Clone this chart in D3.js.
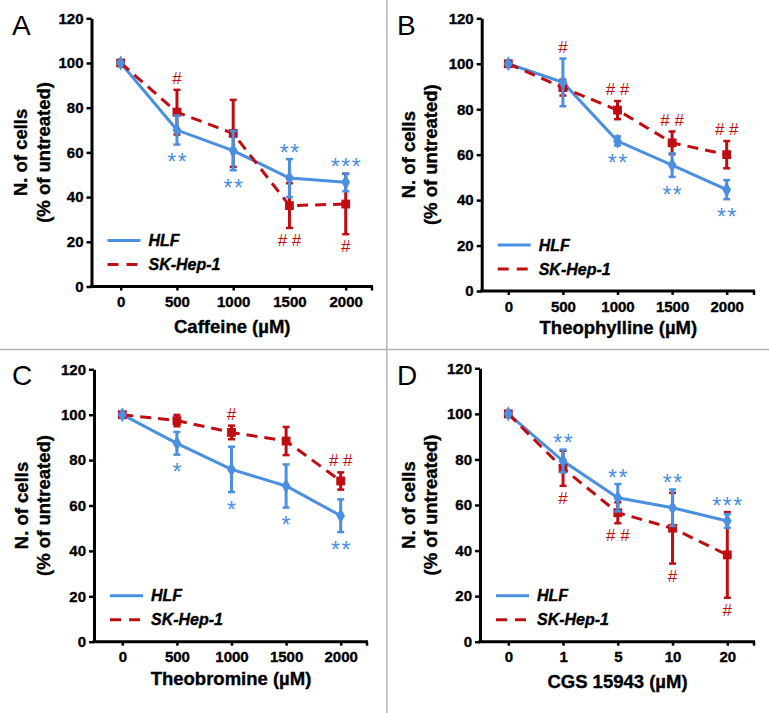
<!DOCTYPE html>
<html>
<head>
<meta charset="utf-8">
<script src="https://cdn.jsdelivr.net/npm/d3@7/dist/d3.min.js"></script>
<style>
  html, body { margin: 0; padding: 0; background: #fff; }
  svg { display: block; font-family: "Liberation Sans", Arial, sans-serif; }
</style>
</head>
<body>
<svg id="chart" width="769" height="713"></svg>
<script>
// ---------------- DATA ----------------
const yTicks = [0, 20, 40, 60, 80, 100, 120];
const seriesNames = ["HLF", "SK-Hep-1"];

// Panel A: Caffeine
const caffeineDoses = ["0", "500", "1000", "1500", "2000"];
const caffeineHLF = [100, 70, 60.8, 48.5, 46.6];
const caffeineHLFErr = [0, 6.5, 8.8, 8.5, 4];
const caffeineSK = [100, 78, 68.5, 36.2, 36.9];
const caffeineSKErr = [0, 10, 15, 10, 13.5];
const caffeineHLFMarks = ["", "**", "**", "**", "***"];
const caffeineHLFSide = ["", "below", "below", "above", "above"];
const caffeineSKMarks = ["", "#", "", "# #", "#"];
const caffeineSKSide = ["", "above", "", "below", "below"];

// Panel B: Theophylline
const theophyllineDoses = ["0", "500", "1000", "1500", "2000"];
const theophyllineHLF = [100, 91.8, 66, 55.4, 44.6];
const theophyllineHLFErr = [0, 10.5, 2, 5.2, 4.2];
const theophyllineSK = [100, 89.5, 79.6, 65.2, 60];
const theophyllineSKErr = [0, 3.5, 4, 5, 6];
const theophyllineHLFMarks = ["", "", "**", "**", "**"];
const theophyllineHLFSide = ["", "", "below", "below", "below"];
const theophyllineSKMarks = ["", "#", "# #", "# #", "# #"];
const theophyllineSKSide = ["", "above", "above", "above", "above"];

// Panel C: Theobromine
const theobromineDoses = ["0", "500", "1000", "1500", "2000"];
const theobromineHLF = [100, 87.4, 75.9, 68.6, 55.5];
const theobromineHLFErr = [0, 5, 10, 9.5, 7.2];
const theobromineSK = [100, 97.4, 92.2, 88.4, 70.8];
const theobromineSKErr = [0, 2.5, 3, 6.2, 3.8];
const theobromineHLFMarks = ["", "*", "*", "*", "**"];
const theobromineHLFSide = ["", "below", "below", "below", "below"];
const theobromineSKMarks = ["", "", "#", "", "# #"];
const theobromineSKSide = ["", "", "above", "", "above"];

// Panel D: CGS 15943
const cgsDoses = ["0", "1", "5", "10", "20"];
const cgsHLF = [100, 79.3, 63.2, 58.8, 53];
const cgsHLFErr = [0, 5, 6, 8, 3];
const cgsSK = [100, 76.1, 56.6, 49.8, 38.1];
const cgsSKErr = [0, 7.7, 4.6, 15.5, 18.8];
const cgsHLFMarks = ["", "**", "**", "**", "***"];
const cgsHLFSide = ["", "above", "above", "above", "above"];
const cgsSKMarks = ["", "#", "# #", "#", "#"];
const cgsSKSide = ["", "below", "below", "below", "below"];

// ---------------- LAYOUT / STYLE ----------------
const BLUE = "#4a8fe0";
const RED = "#bf0d12";

const panels = [
  { letter: "A", title: "Caffeine (\u00b5M)", doses: caffeineDoses,
    hlf: caffeineHLF, hlfErr: caffeineHLFErr, sk: caffeineSK, skErr: caffeineSKErr,
    hlfMarks: caffeineHLFMarks, hlfSide: caffeineHLFSide, skMarks: caffeineSKMarks, skSide: caffeineSKSide,
    axisX: 91.5, yTop: 18.3, yBot: 286.5, xFirst: 120.7, xLast: 345.7, xEnd: 373,
    letterX: 12, letterY: 35, yt1: 20.7, yt2: 43.3, xtY: 333 },
  { letter: "B", title: "Theophylline (\u00b5M)", doses: theophyllineDoses,
    hlf: theophyllineHLF, hlfErr: theophyllineHLFErr, sk: theophyllineSK, skErr: theophyllineSKErr,
    hlfMarks: theophyllineHLFMarks, hlfSide: theophyllineHLFSide, skMarks: theophyllineSKMarks, skSide: theophyllineSKSide,
    axisX: 481.7, yTop: 18.3, yBot: 291, xFirst: 508.3, xLast: 726.7, xEnd: 755,
    letterX: 397, letterY: 35, yt1: 408, yt2: 430.5, xtY: 334 },
  { letter: "C", title: "Theobromine (\u00b5M)", doses: theobromineDoses,
    hlf: theobromineHLF, hlfErr: theobromineHLFErr, sk: theobromineSK, skErr: theobromineSKErr,
    hlfMarks: theobromineHLFMarks, hlfSide: theobromineHLFSide, skMarks: theobromineSKMarks, skSide: theobromineSKSide,
    axisX: 94, yTop: 369.3, yBot: 641.7, xFirst: 122.3, xLast: 340.7, xEnd: 368,
    letterX: 12, letterY: 385, yt1: 21.7, yt2: 43.8, xtY: 685 },
  { letter: "D", title: "CGS 15943 (\u00b5M)", doses: cgsDoses,
    hlf: cgsHLF, hlfErr: cgsHLFErr, sk: cgsSK, skErr: cgsSKErr,
    hlfMarks: cgsHLFMarks, hlfSide: cgsHLFSide, skMarks: cgsSKMarks, skSide: cgsSKSide,
    axisX: 480, yTop: 368.3, yBot: 641.7, xFirst: 508.3, xLast: 727.3, xEnd: 755,
    letterX: 397, letterY: 385, yt1: 408.3, yt2: 430.5, xtY: 688 }
];

const svg = d3.select("#chart");

// dividers
svg.append("line").attr("x1", 0).attr("x2", 769).attr("y1", 349.5).attr("y2", 349.5)
  .attr("stroke", "#b4b4b4").attr("stroke-width", 1.5);
svg.append("line").attr("x1", 386.8).attr("x2", 386.8).attr("y1", 0).attr("y2", 713)
  .attr("stroke", "#b4b4b4").attr("stroke-width", 1.5);

function heavy(sel, color) {
  sel.attr("stroke", color || "#000").attr("stroke-width", 0.35).attr("paint-order", "stroke");
}

panels.forEach(p => {
  const g = svg.append("g");
  const x = d3.scalePoint().domain(p.doses).range([p.xFirst, p.xLast]);
  const y = d3.scaleLinear().domain([0, 120]).range([p.yBot, p.yTop]);

  // Y axis
  const ya = g.append("g").attr("transform", `translate(${p.axisX},0)`)
    .call(d3.axisLeft(y).tickValues(yTicks).tickSize(5).tickSizeOuter(0).tickPadding(3));
  ya.select(".domain").attr("stroke", "#000").attr("stroke-width", 3);
  ya.selectAll(".tick line").attr("stroke", "#000").attr("stroke-width", 2.5);
  ya.selectAll(".tick text").attr("font-size", 15).attr("font-weight", "bold")
    .attr("fill", "#000").attr("font-family", "Liberation Sans, Arial, sans-serif").call(heavy);

  // X axis
  const xa = g.append("g").attr("transform", `translate(0,${p.yBot})`)
    .call(d3.axisBottom(x).tickSize(4).tickSizeOuter(0).tickPadding(6));
  xa.select(".domain").attr("d", `M${p.axisX - 1.5},0H${p.xEnd}`)
    .attr("stroke", "#000").attr("stroke-width", 3);
  xa.selectAll(".tick line").attr("stroke", "#000").attr("stroke-width", 2.5);
  xa.selectAll(".tick text").attr("font-size", 15).attr("font-weight", "bold")
    .attr("fill", "#000").attr("font-family", "Liberation Sans, Arial, sans-serif").call(heavy);
  xa.append("line").attr("x1", p.xEnd - 1).attr("x2", p.xEnd - 1).attr("y1", 0).attr("y2", 4)
    .attr("stroke", "#000").attr("stroke-width", 2.5);

  // panel letter
  g.append("text").attr("x", p.letterX).attr("y", p.letterY)
    .attr("font-size", 28).attr("fill", "#000").text(p.letter);

  // axis titles
  const yMid = (p.yTop + p.yBot) / 2;
  g.append("text").attr("transform", `translate(${p.yt1},${yMid}) rotate(-90)`)
    .attr("text-anchor", "middle").attr("dominant-baseline", "central")
    .attr("font-size", 18.5).attr("font-weight", "bold").text("N. of cells").call(heavy);
  g.append("text").attr("transform", `translate(${p.yt2},${yMid}) rotate(-90)`)
    .attr("text-anchor", "middle").attr("dominant-baseline", "central")
    .attr("font-size", 18.5).attr("font-weight", "bold").text("(% of untreated)").call(heavy);
  g.append("text").attr("x", (p.axisX + p.xEnd) / 2).attr("y", p.xtY)
    .attr("text-anchor", "middle").attr("font-size", 18.5).attr("font-weight", "bold")
    .text(p.title).call(heavy);

  const series = [
    { name: seriesNames[0], vals: p.hlf, errs: p.hlfErr, color: BLUE, dash: null, shape: d3.symbolDiamond, size: 66, marks: p.hlfMarks, side: p.hlfSide },
    { name: seriesNames[1], vals: p.sk, errs: p.skErr, color: RED, dash: "11,7", shape: d3.symbolSquare, size: 78, marks: p.skMarks, side: p.skSide }
  ];

  const line = d3.line().x((d, i) => x(p.doses[i])).y(d => y(d));

  series.forEach(s => {
    g.append("path").datum(s.vals).attr("d", line)
      .attr("fill", "none").attr("stroke", s.color).attr("stroke-width", 3)
      .attr("stroke-dasharray", s.dash);
  });

  [series[1], series[0]].forEach(s => {
    s.vals.forEach((v, i) => {
      const e = s.errs[i];
      const cx = x(p.doses[i]);
      if (e > 0) {
        g.append("line").attr("x1", cx).attr("x2", cx).attr("y1", y(v - e)).attr("y2", y(v + e))
          .attr("stroke", s.color).attr("stroke-width", 3);
        [v - e, v + e].forEach(t => {
          g.append("line").attr("x1", cx - 3.5).attr("x2", cx + 3.5).attr("y1", y(t)).attr("y2", y(t))
            .attr("stroke", s.color).attr("stroke-width", 2.5);
        });
      }
      g.append("path").attr("d", d3.symbol().type(s.shape).size(s.size)())
        .attr("transform", `translate(${cx},${y(v)})`).attr("fill", s.color);
    });
  });

  // significance marks
  series.forEach(s => {
    s.marks.forEach((m, i) => {
      if (!m) return;
      const cx = x(p.doses[i]);
      let target;
      if (s.side[i] === "above") {
        const top = d3.max(series, ss => ss.vals[i] + ss.errs[i]);
        target = y(top) - 12;
      } else {
        const bot = d3.min(series, ss => ss.vals[i] - ss.errs[i]);
        target = y(bot) + 12;
      }
      const isStar = m.indexOf("*") >= 0;
      const fs = isStar ? 23 : 17;
      const base = target + (isStar ? 0.6 : 0.36) * fs;
      const t = g.append("text").attr("x", cx).attr("y", base).attr("text-anchor", "middle")
        .attr("font-size", fs).attr("fill", s.color).text(m);
      if (isStar) t.attr("letter-spacing", 1.5).attr("dx", 0.75);
    });
  });

  // legend
  series.forEach((s, k) => {
    const ly = p.yBot - 46 + k * 24;
    g.append("line").attr("x1", p.axisX + 16).attr("x2", p.axisX + 49).attr("y1", ly).attr("y2", ly)
      .attr("stroke", s.color).attr("stroke-width", 3).attr("stroke-dasharray", s.dash ? "11,8" : null);
    g.append("text").attr("x", p.axisX + 57).attr("y", ly).attr("dominant-baseline", "central")
      .attr("font-size", 16).attr("font-weight", "bold").attr("font-style", "italic")
      .text(s.name).call(heavy);
  });
});
</script>
</body>
</html>
